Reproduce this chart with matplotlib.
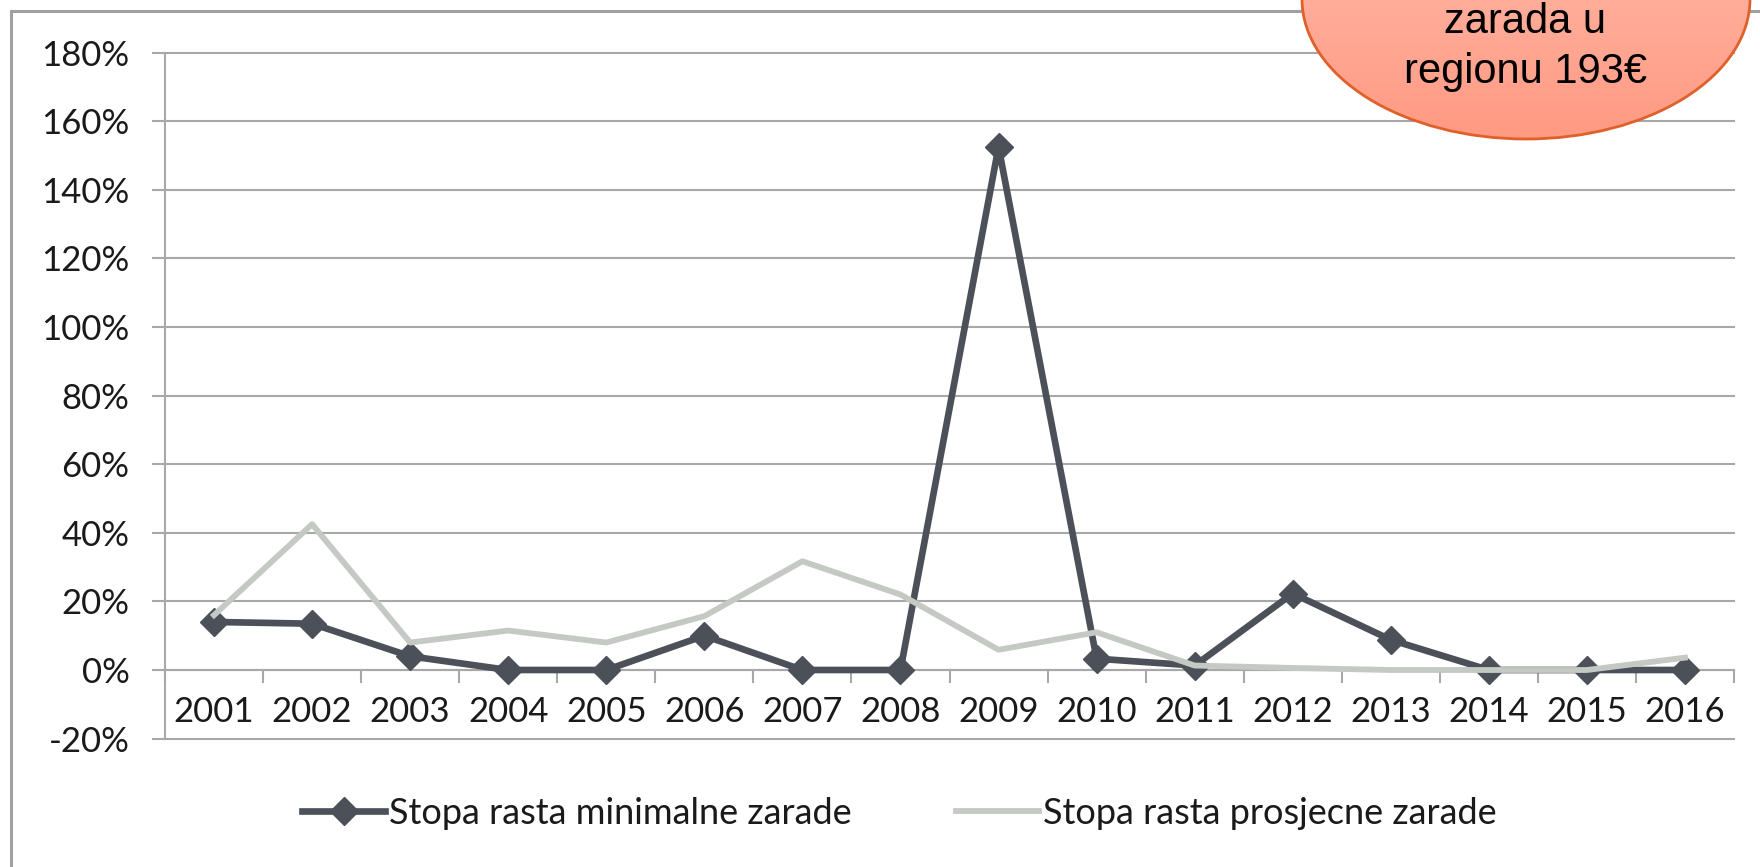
import numpy as np
import matplotlib
matplotlib.use("Agg")
import matplotlib.pyplot as plt
from matplotlib.patches import Ellipse

# ---- data ----
years = ["2001", "2002", "2003", "2004", "2005", "2006", "2007", "2008",
         "2009", "2010", "2011", "2012", "2013", "2014", "2015", "2016"]
min_wage_growth = [14, 13.5, 4, 0, 0, 10, 0, 0, 152.5, 3.3, 1.3, 22.3, 8.8, 0, 0, 0]
avg_wage_growth = [16, 42.5, 8, 11.5, 8, 15.7, 31.7, 22, 5.9, 11, 1.3, 0.6, 0, 0, 0, 3.6]
y_ticks = [-20, 0, 20, 40, 60, 80, 100, 120, 140, 160, 180]
series_names = ["Stopa rasta minimalne zarade", "Stopa rasta prosjecne zarade"]
callout_lines = ["zarada u", "regionu 193€"]

plt.rcParams['font.family'] = ['Lato', 'DejaVu Sans']

W, H = 1760, 867
fig = plt.figure(figsize=(W / 100, H / 100), dpi=100)
fig.patch.set_facecolor('white')

GRID = '#A8A8A8'
DARK = '#4B5059'
LIGHT = '#C4C9C4'
TXT = '#1A1A1A'
FS = 25

left, right, top, bottom = 165, 1734, 52.6, 738.6
ax = fig.add_axes([left / W, 1 - bottom / H, (right - left) / W, (bottom - top) / H])
x = np.arange(len(years))

ax.plot(x, min_wage_growth, color=DARK, lw=4.8, marker='D', markersize=14,
        markeredgecolor=DARK, markerfacecolor=DARK, zorder=3, label=series_names[0])
ax.plot(x, avg_wage_growth, color=LIGHT, lw=4.2, zorder=4, label=series_names[1])

ax.set_xlim(-0.5, len(years) - 0.5)
ax.set_ylim(y_ticks[0], y_ticks[-1])
ax.set_yticks(y_ticks)
ax.set_yticklabels([f"{v}%" for v in y_ticks])
ax.yaxis.grid(True, color=GRID, lw=1.5)
for gl in ax.yaxis.get_gridlines():
    gl.set_clip_on(False)
ax.set_axisbelow(True)

for s in ['top', 'right']:
    ax.spines[s].set_visible(False)
ax.spines['left'].set_color(GRID)
ax.spines['left'].set_linewidth(1.5)
ax.spines['bottom'].set_position(('data', 0))
ax.spines['bottom'].set_color(GRID)
ax.spines['bottom'].set_linewidth(1.5)

ax.set_xticks(x)
ax.set_xticklabels(years)
ax.set_xticks(np.arange(-0.5, len(years), 1), minor=True)
ax.tick_params(axis='x', which='major', length=0, pad=19, labelsize=FS, labelcolor=TXT)
ax.tick_params(axis='x', which='minor', length=9, width=1.5, color=GRID, direction='out')
ax.tick_params(axis='y', length=9.5, width=1.5, color=GRID, pad=16, labelsize=FS, labelcolor=TXT)

leg = fig.legend(loc='center', bbox_to_anchor=(0.511, 0.062), ncol=2, frameon=False,
                 fontsize=26, handlelength=2.3, handletextpad=0.1, columnspacing=2.9)
for t in leg.get_texts():
    t.set_color(TXT)

# ---- overlay: frame + callout ----
ov = fig.add_axes([0, 0, 1, 1], zorder=10)
ov.axis('off')
ov.patch.set_alpha(0)
ov.plot([11, 11, W + 5], [H + 5, 11, 11], color='#A0A0A0', lw=2.2, solid_joinstyle='miter')

ell = Ellipse((1526, -1), 448, 280, facecolor='none', edgecolor='#E0602A', lw=2.0, zorder=3)
ov.add_patch(ell)
grad = np.linspace(0, 1, 256).reshape(-1, 1)
c_top = np.array([1.0, 0.76, 0.70])
c_bot = np.array([1.0, 0.60, 0.51])
img = c_top[None, None, :] * (1 - grad[..., None]) + c_bot[None, None, :] * grad[..., None]
im = ov.imshow(img, extent=[1290, 1765, 142, -145], aspect='auto', zorder=2, interpolation='bilinear')
im.set_clip_path(ell)
ov.set_xlim(0, W)
ov.set_ylim(H, 0)

ov.text(1525, 33, callout_lines[0], ha='center', va='baseline', fontsize=30,
        family=['Liberation Sans', 'DejaVu Sans'], color='black', zorder=5)
ov.text(1525, 83, callout_lines[1], ha='center', va='baseline', fontsize=30,
        family=['Liberation Sans', 'DejaVu Sans'], color='black', zorder=5)

fig.savefig('out.png', dpi=100)
